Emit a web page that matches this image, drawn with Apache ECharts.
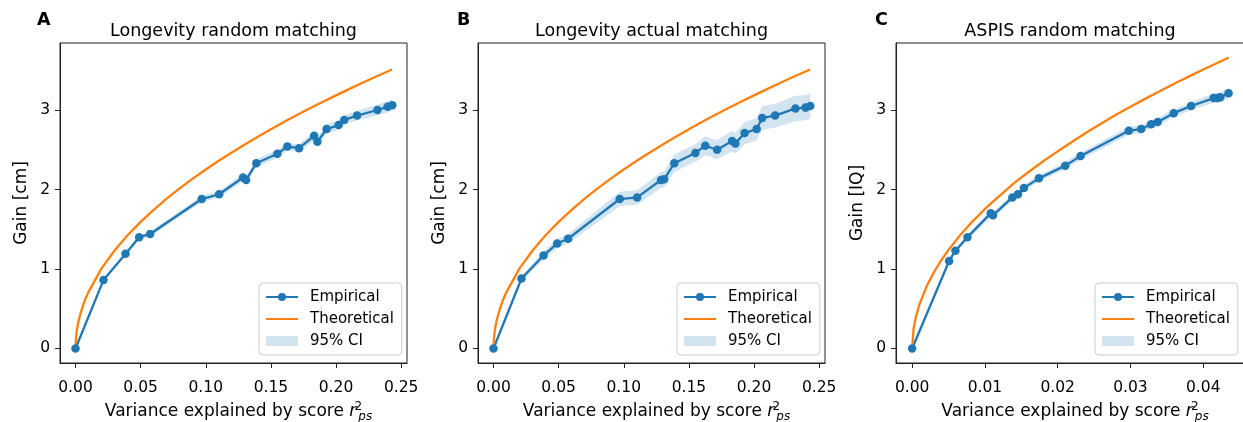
<!DOCTYPE html>
<html><head><meta charset="utf-8">
<script src="https://cdn.jsdelivr.net/npm/echarts@6/dist/echarts.min.js"></script>
<style>html,body{margin:0;padding:0;background:#fff}#c{width:1243px;height:422px}</style>
</head><body><div id="c"></div>
<script>
// ---- data ----
const xLong = [0, 0.0215, 0.0384, 0.0489, 0.0573, 0.0969, 0.1103, 0.1286, 0.131, 0.1388, 0.155, 0.1626, 0.1717, 0.1832, 0.1857, 0.1928, 0.202, 0.2063, 0.2162, 0.2318, 0.2396, 0.2432];
const empA = [0, 0.86, 1.19, 1.40, 1.44, 1.88, 1.94, 2.15, 2.12, 2.33, 2.45, 2.54, 2.52, 2.675, 2.60, 2.76, 2.81, 2.875, 2.93, 3.00, 3.04, 3.06];
const ciA  = [0, 0.02, 0.03, 0.03, 0.03, 0.04, 0.04, 0.05, 0.05, 0.05, 0.05, 0.05, 0.05, 0.06, 0.06, 0.06, 0.06, 0.06, 0.06, 0.07, 0.07, 0.07];
const empB = [0, 0.88, 1.17, 1.32, 1.38, 1.88, 1.90, 2.12, 2.13, 2.33, 2.46, 2.55, 2.50, 2.61, 2.58, 2.71, 2.76, 2.90, 2.93, 3.02, 3.03, 3.05];
const ciB  = [0, 0.03, 0.05, 0.06, 0.06, 0.09, 0.09, 0.10, 0.10, 0.11, 0.11, 0.12, 0.12, 0.13, 0.13, 0.14, 0.14, 0.15, 0.15, 0.16, 0.16, 0.16];
const xAspis = [0, 0.00508, 0.00595, 0.0076, 0.0108, 0.0111, 0.01377, 0.01454, 0.01536, 0.01742, 0.02104, 0.02314, 0.02977, 0.03147, 0.03284, 0.03374, 0.03594, 0.03833, 0.04143, 0.04198, 0.04234, 0.04348];
const empC = [0, 1.10, 1.23, 1.40, 1.70, 1.675, 1.90, 1.94, 2.02, 2.14, 2.30, 2.42, 2.74, 2.76, 2.82, 2.85, 2.96, 3.05, 3.15, 3.15, 3.16, 3.21];
const ciC  = [0, 0.03, 0.03, 0.03, 0.04, 0.04, 0.04, 0.04, 0.04, 0.04, 0.045, 0.045, 0.05, 0.05, 0.05, 0.05, 0.05, 0.05, 0.06, 0.06, 0.06, 0.06];
const theoXLong = [0, 0.0002, 0.001, 0.002, 0.003, 0.005, 0.0075, 0.01, 0.02, 0.03, 0.04, 0.05, 0.06, 0.07, 0.08, 0.09, 0.10, 0.11, 0.12, 0.13, 0.14, 0.15, 0.16, 0.17, 0.18, 0.19, 0.20, 0.21, 0.22, 0.23, 0.24, 0.243];
const theoLong  = [0, 0.10, 0.225, 0.32, 0.39, 0.50, 0.62, 0.712, 1.007, 1.233, 1.424, 1.592, 1.744, 1.884, 2.014, 2.136, 2.252, 2.361, 2.466, 2.567, 2.664, 2.758, 2.848, 2.936, 3.021, 3.104, 3.184, 3.263, 3.340, 3.415, 3.488, 3.51];
const theoXAspis = [0, 0.0002, 0.0005, 0.001, 0.002, 0.003, 0.004, 0.005, 0.0065, 0.008, 0.01, 0.012, 0.014, 0.016, 0.018, 0.02, 0.022, 0.024, 0.026, 0.028, 0.03, 0.032, 0.034, 0.036, 0.038, 0.04, 0.042, 0.0435];
const theoAspis  = [0, 0.25, 0.39, 0.555, 0.785, 0.96, 1.11, 1.24, 1.415, 1.57, 1.755, 1.92, 2.08, 2.22, 2.355, 2.48, 2.60, 2.72, 2.83, 2.94, 3.04, 3.14, 3.235, 3.33, 3.42, 3.51, 3.595, 3.66];
const panelLetters = ['A', 'B', 'C'];
const panelTitles = ['Longevity random matching', 'Longevity actual matching', 'ASPIS random matching'];
const yNames = ['Gain [cm]', 'Gain [cm]', 'Gain [IQ]'];
const xTicksLong = [0, 0.05, 0.10, 0.15, 0.20, 0.25];
const xTicksAspis = [0, 0.01, 0.02, 0.03, 0.04];
const yTicks = [0, 1, 2, 3];
const legendNames = ['Empirical', 'Theoretical', '95% CI'];

// ---- layout / style ----
const FONT = 'DejaVu Sans';
const BLUE = '#1f77b4', ORANGE = '#ff7f0e', BAND = 'rgba(31,119,180,0.2)';
const panels = [
  { left: 60,  width: 347, xMin: -0.0119, xMax: 0.2545, xt: xTicksLong, x: xLong, emp: empA, ci: ciA, tx: theoXLong, ty: theoLong, legLeft: 259, cx: 233.5, lx: 37 },
  { left: 478, width: 347, xMin: -0.0119, xMax: 0.2545, xt: xTicksLong, x: xLong, emp: empB, ci: ciB, tx: theoXLong, ty: theoLong, legLeft: 677, cx: 651.5, lx: 457 },
  { left: 896, width: 348, xMin: -0.00222, xMax: 0.0456, xt: xTicksAspis, x: xAspis, emp: empC, ci: ciC, tx: theoXAspis, ty: theoAspis, legLeft: 1095, cx: 1070, lx: 875 }
];

const grid = [], xAxis = [], yAxis = [], series = [], legend = [], graphic = [];
panels.forEach((p, i) => {
  grid.push({ left: p.left, top: 43, width: p.width, height: 320, outerBoundsMode: 'none', containLabel: false, show: true, borderColor: '#222', borderWidth: 1, backgroundColor: 'transparent' });
  xAxis.push({
    type: 'value', gridIndex: i, min: p.xMin, max: p.xMax,
    axisLine: { show: true, onZero: false, lineStyle: { color: '#222', width: 1 } },
    axisTick: { show: true, length: 5, lineStyle: { color: '#222' }, customValues: p.xt },
    axisLabel: { customValues: p.xt, formatter: v => v.toFixed(2), color: '#000', fontSize: 15.5, fontFamily: FONT, margin: 17 },
    splitLine: { show: false },
    name: 'Variance explained by score {it|r}{sup|2}{sub|ps}', nameLocation: 'middle', nameGap: 33,
    nameTextStyle: {
      color: '#000', fontSize: 17, fontFamily: FONT, lineHeight: 22, padding: [0, 0, 0, 10],
      rich: {
        it: { fontStyle: 'italic', fontSize: 17, fontFamily: FONT, color: '#000', lineHeight: 22, padding: [0, 2, 0, 0] },
        sup: { fontSize: 12, fontFamily: FONT, color: '#000', verticalAlign: 'top', lineHeight: 13, width: 0 },
        sub: { fontStyle: 'italic', fontSize: 12, fontFamily: FONT, color: '#000', verticalAlign: 'bottom', lineHeight: 13 }
      }
    }
  });
  yAxis.push({
    type: 'value', gridIndex: i, min: -0.183, max: 3.843,
    axisLine: { show: true, onZero: false, lineStyle: { color: '#222', width: 1 } },
    axisTick: { show: true, length: 5, lineStyle: { color: '#222' }, customValues: yTicks },
    axisLabel: { customValues: yTicks, color: '#000', fontSize: 15.5, fontFamily: FONT, margin: 10 },
    splitLine: { show: false },
    name: yNames[i], nameLocation: 'middle', nameGap: 30, nameRotate: 90,
    nameTextStyle: { color: '#000', fontSize: 17, fontFamily: FONT }
  });
  const bandData = p.x.map((xv, k) => [xv, p.emp[k] - p.ci[k], p.emp[k] + p.ci[k]]);
  series.push({
    type: 'custom', name: '95% CI', xAxisIndex: i, yAxisIndex: i, z: 1, silent: true,
    data: bandData,
    renderItem: (params, api) => {
      if (params.dataIndex !== 0) return null;
      const up = bandData.map(d => api.coord([d[0], d[2]]));
      const lo = bandData.map(d => api.coord([d[0], d[1]])).reverse();
      return { type: 'polygon', shape: { points: up.concat(lo) }, style: { fill: BAND, stroke: null } };
    },
    itemStyle: { color: BAND }
  });
  series.push({
    type: 'line', name: 'Empirical', xAxisIndex: i, yAxisIndex: i, z: 2,
    data: p.x.map((xv, k) => [xv, p.emp[k]]),
    symbol: 'circle', symbolSize: 8.5, showSymbol: true,
    lineStyle: { color: BLUE, width: 2.3 }, itemStyle: { color: BLUE }
  });
  series.push({
    type: 'line', name: 'Theoretical', xAxisIndex: i, yAxisIndex: i, z: 2,
    data: p.tx.map((xv, k) => [xv, p.ty[k]]),
    symbol: 'none', showSymbol: false, smooth: false,
    lineStyle: { color: ORANGE, width: 2.3 }, itemStyle: { color: ORANGE }
  });
  legend.push({
    left: p.legLeft, top: 283, orient: 'vertical', selectedMode: false,
    itemWidth: 32, itemHeight: 10, itemGap: 6,
    padding: [6, 8, 6, 6],
    borderColor: '#cccccc', borderWidth: 1, borderRadius: 4, backgroundColor: 'rgba(255,255,255,0.8)',
    textStyle: { color: '#000', fontSize: 15, fontFamily: FONT, lineHeight: 16, padding: [0, 0, 0, 7] },
    data: [
      { name: legendNames[0] },
      { name: legendNames[1], itemStyle: { opacity: 0 } },
      { name: legendNames[2], icon: 'rect', itemStyle: { color: BAND } }
    ]
  });
  graphic.push({ type: 'text', x: p.cx, y: 31, style: { text: panelTitles[i], font: '17.5px "DejaVu Sans"', fill: '#000', textAlign: 'center', textVerticalAlign: 'middle' } });
  graphic.push({ type: 'text', x: p.lx, y: 20, style: { text: panelLetters[i], font: 'bold 17.5px "DejaVu Sans"', fill: '#000', textAlign: 'left', textVerticalAlign: 'middle' } });
});

const chart = echarts.init(document.getElementById('c'), null, { renderer: 'canvas' });
chart.setOption({ animation: false, backgroundColor: '#fff', grid, xAxis, yAxis, series, legend, graphic });
</script></body></html>
